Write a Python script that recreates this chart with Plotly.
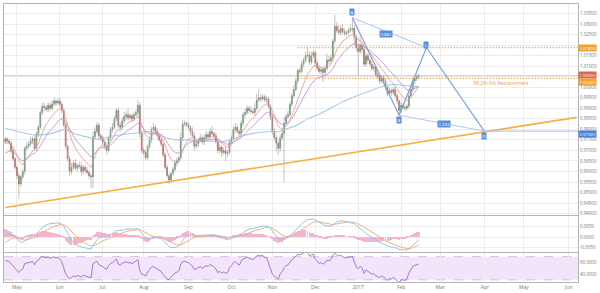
import pandas as pd
import plotly.graph_objects as go
from plotly.subplots import make_subplots

# ---------------- data ----------------
dates = pd.bdate_range("2016-04-22", "2017-02-14")
first_open = 0.9740
closes = [
    # Apr 22-29
    0.9755, 0.9745, 0.9735, 0.9700, 0.9660, 0.9620,
    # May
    0.9580, 0.9540, 0.9575, 0.9600, 0.9710, 0.9720, 0.9730, 0.9745, 0.9755, 0.9710,
    0.9780, 0.9810, 0.9880, 0.9910, 0.9905, 0.9895, 0.9915, 0.9900, 0.9920, 0.9935,
    0.9925, 0.9935,
    # Jun
    0.9920, 0.9890, 0.9820, 0.9720, 0.9660, 0.9600, 0.9620, 0.9640, 0.9615, 0.9630,
    0.9625, 0.9600, 0.9620, 0.9605, 0.9595, 0.9580, 0.9575, 0.9765, 0.9790, 0.9820,
    0.9770, 0.9760,
    # Jul
    0.9740, 0.9720, 0.9700, 0.9760, 0.9800, 0.9810, 0.9850, 0.9890, 0.9820, 0.9810,
    0.9840, 0.9860, 0.9870, 0.9855, 0.9865, 0.9850, 0.9870, 0.9880, 0.9915, 0.9780,
    0.9700,
    # Aug
    0.9690, 0.9665, 0.9720, 0.9750, 0.9800, 0.9810, 0.9790, 0.9770, 0.9750, 0.9730,
    0.9680, 0.9620, 0.9580, 0.9560, 0.9590, 0.9610, 0.9640, 0.9650, 0.9665, 0.9760,
    0.9825, 0.9830, 0.9820,
    # Sep
    0.9810, 0.9790, 0.9770, 0.9720, 0.9730, 0.9750, 0.9760, 0.9740, 0.9760, 0.9775,
    0.9765, 0.9790, 0.9780, 0.9770, 0.9745, 0.9700, 0.9715, 0.9690, 0.9700, 0.9685,
    0.9690, 0.9740,
    # Oct
    0.9760, 0.9800, 0.9810, 0.9790, 0.9780, 0.9830, 0.9870, 0.9880, 0.9900, 0.9890,
    0.9885, 0.9880, 0.9900, 0.9940, 0.9950, 0.9945, 0.9955, 0.9940, 0.9945, 0.9910,
    0.9860,
    # Nov
    0.9790, 0.9760, 0.9735, 0.9710, 0.9760, 0.9780, 0.9830, 0.9860, 0.9870, 0.9920,
    0.9960, 0.9990, 1.0030, 1.0080, 1.0075, 1.0110, 1.0130, 1.0150, 1.0155, 1.0120,
    1.0150, 1.0165,
    # Dec
    1.0115, 1.0090, 1.0075, 1.0085, 1.0070, 1.0090, 1.0130, 1.0125, 1.0140, 1.0220,
    1.0290, 1.0270, 1.0260, 1.0280, 1.0265, 1.0255, 1.0260, 1.0270, 1.0275, 1.0280,
    1.0240, 1.0190,
    # Jan
    1.0170, 1.0200, 1.0180, 1.0110, 1.0150, 1.0130, 1.0110, 1.0090, 1.0095, 1.0060,
    1.0050, 1.0030, 1.0045, 1.0030, 1.0000, 0.9970, 0.9985, 0.9975, 0.9990, 0.9960,
    0.9935, 0.9890,
    # Feb
    0.9915, 0.9905, 0.9900, 0.9910, 0.9960, 0.9990, 1.0030, 1.0040, 1.0050, 1.0055,
]
upper_wick_pips = [
    10, 8, 12, 10, 15, 10,
    12, 15, 10, 12, 10, 18, 15, 20, 12, 10, 8, 10, 12, 15, 18, 10, 15, 12, 20, 15, 10, 12,
    15, 10, 12, 10, 8, 15, 20, 12, 18, 10, 15, 20, 12, 10, 15, 12, 10, 25, 20, 15, 12, 10,
    10, 12, 15, 10, 12, 20, 15, 10, 15, 12, 18, 25, 15, 30, 12, 10, 15, 12, 25, 15, 10,
    12, 10, 8, 15, 12, 20, 10, 15, 12, 10, 8, 10, 12, 10, 8, 12, 10, 15, 10, 25, 20, 12, 10,
    15, 10, 20, 12, 15, 10, 20, 12, 15, 18, 12, 15, 25, 10, 15, 12, 18, 10, 15, 20, 12, 10,
    12, 15, 20, 12, 10, 15, 12, 18, 15, 12, 20, 15, 25, 30, 40, 15, 12, 10, 15, 10, 12,
    10, 15, 12, 10, 15, 20, 30, 15, 20, 12, 15, 20, 15, 10, 12, 15, 10, 20, 35, 15, 20, 12,
    10, 12, 15, 10, 12, 15, 30, 20, 15, 10, 54, 20, 25, 15, 20, 15, 12, 15, 20, 50, 15, 10,
    15, 40, 12, 10, 15, 12, 10, 15, 12, 10, 15, 10, 12, 15, 10, 12, 15, 10, 12, 15, 10, 8,
    15, 10, 12, 10, 15, 12, 15, 10, 12, 10,
]
lower_wick_pips = [
    10, 12, 8, 15, 10, 12,
    15, 70, 12, 10, 15, 10, 12, 10, 15, 12, 10, 15, 10, 12, 15, 10, 12, 15, 10, 12, 15, 10,
    12, 15, 10, 15, 12, 20, 15, 12, 10, 15, 12, 20, 15, 12, 10, 15, 50, 55, 15, 12, 20, 15,
    12, 15, 20, 10, 12, 15, 10, 12, 15, 20, 12, 10, 15, 12, 10, 15, 12, 10, 15, 20, 15,
    15, 12, 10, 12, 15, 10, 12, 15, 10, 12, 15, 12, 10, 20, 15, 12, 10, 15, 12, 10, 15, 12, 10,
    12, 15, 10, 20, 12, 15, 10, 12, 15, 10, 12, 15, 10, 15, 12, 15, 12, 20, 12, 35, 15, 12,
    10, 12, 15, 10, 12, 10, 15, 12, 10, 15, 12, 10, 15, 12, 10, 15, 12, 10, 15, 12, 15,
    15, 12, 40, 30, 15, 12, 232, 15, 12, 10, 15, 12, 10, 15, 12, 10, 15, 12, 10, 15, 12, 10,
    15, 12, 10, 15, 45, 12, 10, 15, 12, 10, 15, 12, 10, 15, 12, 10, 15, 12, 10, 15, 40, 15,
    114, 12, 15, 10, 12, 15, 10, 12, 15, 10, 12, 15, 10, 12, 15, 12, 10, 15, 12, 10, 15, 23,
    10, 12, 15, 10, 12, 10, 12, 15, 10, 12,
]

# slow (light blue) moving average, read at sample dates
blue_ma_dates = ["2016-04-22", "2016-05-03", "2016-05-16", "2016-05-26", "2016-06-06",
                 "2016-06-10", "2016-06-17", "2016-06-24", "2016-06-29", "2016-07-11",
                 "2016-07-27", "2016-08-04", "2016-08-11", "2016-08-18", "2016-08-25",
                 "2016-09-01", "2016-09-08", "2016-09-16", "2016-09-27", "2016-10-07",
                 "2016-10-18", "2016-10-28", "2016-11-04", "2016-11-11", "2016-11-18",
                 "2016-11-25", "2016-12-02", "2016-12-09", "2016-12-20", "2017-01-02",
                 "2017-01-12", "2017-01-19", "2017-01-26", "2017-02-02", "2017-02-14"]
blue_ma_values = [0.9805, 0.9789, 0.9773, 0.9781, 0.9800,
                  0.9782, 0.9768, 0.9757, 0.9753, 0.9770,
                  0.9784, 0.9789, 0.9773, 0.9757, 0.9750,
                  0.9750, 0.9745, 0.9745, 0.9742, 0.9765,
                  0.9781, 0.9789, 0.9789, 0.9805, 0.9822,
                  0.9850, 0.9868, 0.9891, 0.9926, 0.9962,
                  0.9990, 1.0006, 1.0013, 1.0010, 1.0002]

# indicator starting states (read at the left edge)
red_ma_start, purple_ma_start = 0.9730, 0.9680
ema12_start, ema26_start, signal_start = 0.9690, 0.9685, -0.0035
rsi_gain_start, rsi_loss_start = 0.0030, 0.0018

# drawings
trend_dates = ["2016-04-22", "2017-06-07"]
trend_values = [0.9429, 0.9857]
pattern_names = ["A", "B", "C", "D"]
pattern_dates = ["2016-12-28", "2017-01-31", "2017-02-20", "2017-03-31 15:00"]
pattern_values = [1.0330, 0.9867, 1.0189, 0.9792]
ratio_texts = ["0.681", "1.234"]
last_price = 1.0055
fib_level = 1.0043
fib_text = "38.2% Fib Retracement"
fib_text_date = "2017-03-22 16:00"

price_ticks = [round(0.940 + 0.005 * k, 3) for k in range(20)]
hidden_price_ticks = [1.005, 1.020]   # covered by the price tags

tick_dates = ["2016-05-02", "2016-06-01", "2016-07-01", "2016-08-01", "2016-09-01",
              "2016-10-03", "2016-11-01", "2016-12-01", "2017-01-02", "2017-02-01",
              "2017-03-01", "2017-04-03", "2017-05-01", "2017-06-01"]
tick_labels = ["May", "Jun", "Jul", "Aug", "Sep", "Oct", "Nov", "Dec", "2017", "Feb",
               "Mar", "Apr", "May", "Jun"]

assert len(dates) == len(closes) == len(upper_wick_pips) == len(lower_wick_pips)

# ---------------- derived series ----------------
opens = [first_open] + closes[:-1]
highs = [max(o, c) + u / 10000 for o, c, u in zip(opens, closes, upper_wick_pips)]
lows = [min(o, c) - l / 10000 for o, c, l in zip(opens, closes, lower_wick_pips)]


def ema(vals, n, start):
    a = 2 / (n + 1)
    out, prev = [], start
    for v in vals:
        prev = prev + a * (v - prev)
        out.append(prev)
    return out


red_ma = ema(closes, 10, red_ma_start)
purple_ma = ema(closes, 20, purple_ma_start)
e12 = ema(closes, 12, ema12_start)
e26 = ema(closes, 26, ema26_start)
macd = [a - b for a, b in zip(e12, e26)]
signal = ema(macd, 9, signal_start)
hist = [m - s for m, s in zip(macd, signal)]

rsi = []
g, l = rsi_gain_start, rsi_loss_start
prev = first_open
for c in closes:
    d = c - prev
    prev = c
    g = (g * 13 + max(d, 0)) / 14
    l = (l * 13 + max(-d, 0)) / 14
    rsi.append(100 - 100 / (1 + g / l))

# ---------------- figure ----------------
fig = make_subplots(rows=3, cols=1, shared_xaxes=True, vertical_spacing=0.0)

GREEN, RED = "#4a8a5c", "#b04a35"
FONT = "Open Sans"

wx, wy = [], []
for d, lo, hi in zip(dates, lows, highs):
    wx += [d, d, None]
    wy += [lo, hi, None]

fig.add_trace(go.Scatter(x=trend_dates, y=trend_values, mode="lines",
                         line=dict(color="#f5b041", width=1.7), hoverinfo="skip"), 1, 1)
fig.add_trace(go.Scatter(x=blue_ma_dates, y=blue_ma_values, mode="lines",
                         line=dict(color="#a5cde9", width=1.1, shape="spline"), hoverinfo="skip"), 1, 1)
fig.add_trace(go.Scatter(x=dates, y=purple_ma, mode="lines",
                         line=dict(color="#b98ade", width=0.8), hoverinfo="skip"), 1, 1)
fig.add_trace(go.Scatter(x=dates, y=red_ma, mode="lines",
                         line=dict(color="#ee948a", width=0.8), hoverinfo="skip"), 1, 1)
fig.add_trace(go.Scatter(x=wx, y=wy, mode="lines",
                         line=dict(color="#a8a8a8", width=0.7), hoverinfo="skip"), 1, 1)
fig.add_trace(go.Candlestick(
    x=dates, open=opens, close=closes,
    high=[max(o, c) for o, c in zip(opens, closes)],
    low=[min(o, c) for o, c in zip(opens, closes)],
    increasing=dict(line=dict(color=GREEN, width=0.5), fillcolor=GREEN),
    decreasing=dict(line=dict(color=RED, width=0.5), fillcolor=RED),
    whiskerwidth=0, hoverinfo="skip"), 1, 1)

# harmonic pattern
LIGHT_B, MID_B, BOX_B = "#b3cbee", "#6f9fe0", "#5b8fdc"
A, B, C, D = range(4)
for i, j, col in [(A, C, LIGHT_B), (B, D, LIGHT_B), (A, B, MID_B), (B, C, MID_B), (C, D, MID_B)]:
    fig.add_trace(go.Scatter(x=[pattern_dates[i], pattern_dates[j]],
                             y=[pattern_values[i], pattern_values[j]], mode="lines",
                             line=dict(color=col, width=1.1), hoverinfo="skip"), 1, 1)
fig.add_trace(go.Scatter(x=[pattern_dates[D], "2017-06-09"],
                         y=[pattern_values[D], pattern_values[D]], mode="lines",
                         line=dict(color=LIGHT_B, width=1.1), hoverinfo="skip"), 1, 1)

# MACD
fig.add_trace(go.Bar(x=dates, y=hist, marker=dict(color="#f5b3cf", line=dict(width=0)),
                     width=0.45 * 86400000, hoverinfo="skip"), 2, 1)
fig.add_trace(go.Scatter(x=dates, y=signal, mode="lines",
                         line=dict(color="#f2b27e", width=1.0), hoverinfo="skip"), 2, 1)
fig.add_trace(go.Scatter(x=dates, y=macd, mode="lines",
                         line=dict(color="#8ec6ea", width=1.0), hoverinfo="skip"), 2, 1)

# RSI
fig.add_trace(go.Scatter(x=dates, y=rsi, mode="lines",
                         line=dict(color="#9c6cc2", width=0.9), hoverinfo="skip"), 3, 1)

# shapes
ORANGE = "#f0a132"
shapes = [
    dict(type="rect", xref="x3 domain", yref="y3", x0=0, x1=1, y0=30, y1=70,
         fillcolor="#f2e5fb", line=dict(width=0), layer="below"),
    dict(type="line", xref="x3 domain", yref="y3", x0=0, x1=1, y0=70, y1=70,
         line=dict(color="#c9b3d9", width=0.8, dash="dash"), layer="below"),
    dict(type="line", xref="x3 domain", yref="y3", x0=0, x1=1, y0=30, y1=30,
         line=dict(color="#c9b3d9", width=0.8, dash="dash"), layer="below"),
    dict(type="line", xref="x domain", yref="y", x0=0, x1=1, y0=last_price, y1=last_price,
         line=dict(color="#f4c8b6", width=1.6), layer="below"),
    dict(type="line", xref="x", yref="y", x0="2016-11-18", x1="2017-06-09",
         y0=pattern_values[C], y1=pattern_values[C],
         line=dict(color=ORANGE, width=1.5, dash="1px,2px")),
    dict(type="line", xref="x", yref="y", x0="2016-11-18", x1="2017-06-09",
         y0=fib_level, y1=fib_level, line=dict(color=ORANGE, width=1.3, dash="1px,2px")),
]

ann = []


def tag(x, y, text, bg, xref="x", yref="y", xanchor="center", yshift=0, size=4.2):
    ann.append(dict(x=x, y=y, xref=xref, yref=yref, text=text, showarrow=False,
                    xanchor=xanchor, yanchor="middle", yshift=yshift,
                    bgcolor=bg, borderpad=0.6, font=dict(color="white", size=size, family=FONT)))


tag(pattern_dates[A], pattern_values[A], "A", BOX_B, yshift=6)
tag(pattern_dates[B], pattern_values[B], "B", BOX_B, yshift=-5)
tag(pattern_dates[C], pattern_values[C], "C", BOX_B, yshift=3)
tag(pattern_dates[D], pattern_values[D], "D", BOX_B, yshift=-5)
tag("2017-01-20", (pattern_values[A] + pattern_values[C]) / 2, ratio_texts[0], BOX_B, yshift=-1)
tag("2017-03-03", (pattern_values[B] + pattern_values[D]) / 2, ratio_texts[1], BOX_B, yshift=-1)

# right-hand price tags
tag(1.0, pattern_values[C], "%.5f" % pattern_values[C], ORANGE, xref="paper", xanchor="left")
tag(1.0, last_price, "%.5f" % last_price, "#de6448", xref="paper", xanchor="left", yshift=1)
tag(1.0, fib_level, "%.5f" % fib_level, ORANGE, xref="paper", xanchor="left", yshift=-3.5)
tag(1.0, pattern_values[D], "%.5f" % pattern_values[D], "#4d82d4", xref="paper", xanchor="left", yshift=-2.5)

ann.append(dict(x=fib_text_date, y=fib_level, xref="x", yref="y", text=fib_text, showarrow=False,
                xanchor="left", yshift=-5, font=dict(color=ORANGE, size=5.2, family=FONT)))

fig.update_layout(
    width=600, height=293, margin=dict(l=4, r=21, t=3, b=10),
    paper_bgcolor="white", plot_bgcolor="white", showlegend=False,
    font=dict(family=FONT, size=5, color="#666666"),
    shapes=shapes, annotations=ann, bargap=0,
)

GRID = "#ececec"
AX = "#b4b4b4"
fig.update_xaxes(
    type="date", rangebreaks=[dict(bounds=["sat", "mon"])],
    range=["2016-04-21 09:00", "2017-06-07 17:00"],
    tickvals=tick_dates, ticktext=tick_labels, showgrid=True, gridcolor=GRID, gridwidth=1,
    showline=True, linecolor=AX, linewidth=1, mirror=True, ticks="",
    rangeslider=dict(visible=False), tickfont=dict(size=5, color="#777777"),
)
fig.update_xaxes(showticklabels=False, row=1, col=1)
fig.update_xaxes(showticklabels=False, row=2, col=1)
fig.update_xaxes(showticklabels=True, row=3, col=1)

fig.update_yaxes(side="right", showline=True, linecolor=AX, linewidth=1, mirror=True,
                 gridcolor=GRID, gridwidth=1, ticks="", zeroline=False,
                 tickfont=dict(size=4.5, color="#777777"))
fig.update_yaxes(range=[0.93910, 1.03958], tickvals=price_ticks,
                 ticktext=["" if v in hidden_price_ticks else "%.5f" % v for v in price_ticks],
                 row=1, col=1)
fig.update_yaxes(range=[-0.00704, 0.00955], tickvals=[-0.005, 0, 0.005],
                 ticktext=["-0.0050", "0.0000", "0.0050"], row=2, col=1)
fig.update_yaxes(range=[26.3, 75.9], tickvals=[40, 60], ticktext=["40.0000", "60.0000"],
                 showgrid=False, row=3, col=1)

fig.update_layout(
    yaxis=dict(domain=[0.2393, 1.0]),
    yaxis2=dict(domain=[0.1071, 0.2357]),
    yaxis3=dict(domain=[0.0, 0.1036]),
)

fig.write_html("out.html")
